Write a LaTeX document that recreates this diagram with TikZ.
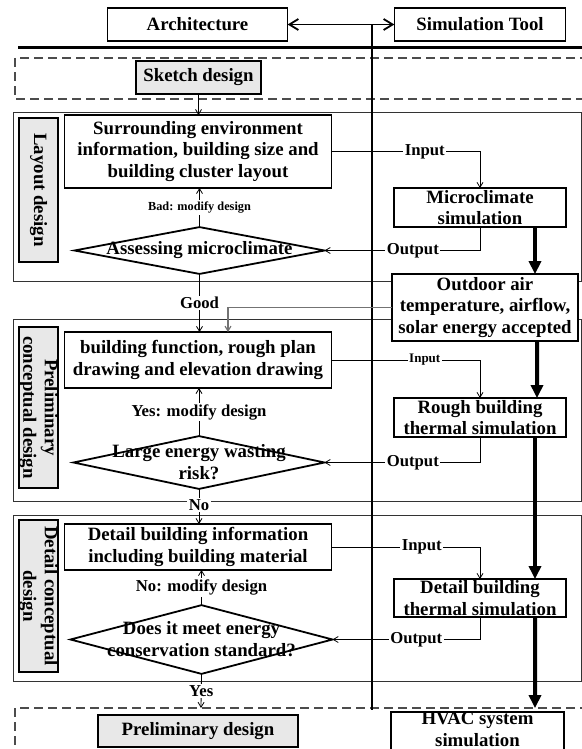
\documentclass[tikz,border=0pt]{standalone}
\usepackage{fontspec}
\setmainfont{Liberation Serif}
\usetikzlibrary{arrows.meta,shapes.geometric}
\newcommand\dgmfont{\bfseries\fontsize{18.8bp}{21.5bp}\selectfont}
\newcommand\lblfont{\bfseries\fontsize{16.7bp}{19bp}\selectfont}
\newcommand\smallfont[1]{\bfseries\fontsize{#1}{#1}\selectfont}
\begin{document}
\begin{tikzpicture}[x=1bp,y=-1bp,
  every node/.style={inner sep=0pt, outer sep=0pt, align=center, font=\dgmfont},
  bx/.style 2 args={draw, line width=1.8bp, fill=white, minimum width=#1, minimum height=#2},
  gbx/.style 2 args={bx={#1}{#2}, fill=black!9},
  tight/.style={inner ysep=-2.5bp},
  dia/.style 2 args={diamond, draw, line width=1.8bp, minimum width=#1, minimum height=#2},
  lbl/.style={fill=white, inner xsep=1.5bp, inner ysep=1.5bp, font=\lblfont},
  thinarrow/.style={line width=0.8bp, -{Straight Barb[length=5bp,width=6bp]}},
  thickarrow/.style={line width=4bp, -{Triangle[length=13bp,width=12bp]}},
  frame/.style={draw=black!80, line width=0.9bp},
  dsh/.style={draw=black!70, line width=1.3bp, dash pattern=on 9bp off 5bp},
  ]
\useasboundingbox (0,0) rectangle (582,749);

% dashed bands and frames
\draw[dsh] (15,58) rectangle (590,99);
\draw[dsh] (15,708) rectangle (590,770);
\draw[frame] (13,112) rectangle (581.5,281);
\draw[frame] (13,319) rectangle (581.5,501);
\draw[frame] (13,515) rectangle (581.5,681);

% header
\node[bx={181}{33}, line width=1.2bp] (arch) at (197.5,24.5) {Architecture};
\node[bx={172}{33}, line width=1.2bp] (simt) at (480,24.5) {Simulation Tool};
\draw[line width=1.8bp, {Straight Barb[length=9bp,width=11bp]}-{Straight Barb[length=9bp,width=11bp]}] (arch.east) -- (simt.west);
\coordinate (vtop) at (372,24.5);
\coordinate (vbot) at (372,710);
\draw[line width=1.8bp] (vtop) -- (vbot);
\coordinate (hl) at (18,48);
\coordinate (hr) at (585,48);
\draw[line width=3bp] (hl) -- (hr);

% side labels
\node[gbx={144}{39}, rotate=-90] (sl1) at (38.5,190) {Layout design};
\node[gbx={161}{39}, rotate=-90, tight] (sl2) at (38.5,407.5) {Preliminary\\conceptual design};
\node[gbx={152}{39}, rotate=-90, tight] (sl3) at (38.5,596) {Detail conceptual\\design};

% architecture column
\node[gbx={125}{33}] (sketch) at (198.5,77.5) {Sketch design};
\node[bx={268}{73}] (b1) at (198,151.5) {Surrounding environment\\information, building size and\\building cluster layout};
\node[dia={251}{47}] (d1) at (199.5,250.5) {};
\node (d1t) at (199.5,250) {Assessing microclimate};
\node[bx={268}{56}] (b2) at (198,360) {building function, rough plan\\drawing and elevation drawing};
\node[dia={252}{53}] (d2) at (199,462.5) {};
\node (d2t) at (199,462) {Large energy wasting\\risk?};
\node[bx={268}{46}] (b3) at (198,547) {Detail building information\\including building material};
\node[dia={263}{69}] (d3) at (201.5,639.5) {};
\node (d3t) at (201.5,639) {Does it meet energy\\conservation standard?};
\node[gbx={200}{32}] (prel) at (198,731) {Preliminary design};
\coordinate (ytip) at (201,708);

% simulation column
\node[bx={172}{39}, tight] (micro) at (480,207.5) {Microclimate\\simulation};
\node[bx={186}{67}] (outd) at (485,307.5) {Outdoor air\\temperature, airflow,\\solar energy accepted};
\node[bx={172}{39}, tight] (rough) at (480,417.5) {Rough building\\thermal simulation};
\node[bx={173}{38}, tight] (dsim) at (480,598) {Detail building\\thermal simulation};
\node[bx={173}{46}] (hvac) at (477.5,735) {};
\node (hvact) at (477.5,729.5) {HVAC system\\simulation};

% vertical flow
\draw[thinarrow] (sketch.south) -- (sketch.south |- b1.north);
\draw[thinarrow] (d1.north) -- (d1.north |- b1.south) node[midway, lbl, font=\smallfont{12.3bp}] {Bad: modify design};
\draw[thinarrow] (d1.south) -- (d1.south |- b2.north) node[midway, lbl] {Good};
\draw[thinarrow] (d2.north) -- (d2.north |- b2.south) node[midway, lbl] {Yes: modify design};
\draw[thinarrow] (d2.south) -- (d2.south |- b3.north) node[pos=0.45, lbl] {No};
\draw[thinarrow] (d3.north) -- (d3.north |- b3.south) node[midway, lbl] {No: modify design};
\draw[thinarrow] (d3.south) -- (ytip) node[midway, lbl] {Yes};

% input / output
\draw[thinarrow] (b1.east) -| (micro.north) node[pos=0.314, lbl] {Input};
\draw[thinarrow] (micro.south) |- (d1.east) node[pos=0.716, lbl] {Output};
\draw[thinarrow] (b2.east) -| (rough.north) node[pos=0.314, lbl, font=\smallfont{13bp}] {Input};
\draw[thinarrow] (rough.south) |- (d2.east) node[pos=0.716, lbl] {Output};
\draw[thinarrow] (b3.east) -| (dsim.north) node[pos=0.304, lbl] {Input};
\draw[thinarrow] (dsim.south) |- (d3.east) node[pos=0.716, lbl] {Output};
\draw[thinarrow, draw=black!55, line width=1.1bp] (outd.west) -| ([xshift=30bp]b2.north);

% thick simulation flow
\draw[thickarrow] ([xshift=55bp]micro.south) -- ([xshift=55bp]micro.south |- outd.north);
\draw[thickarrow] ([xshift=52bp]outd.south) -- ([xshift=57bp]rough.north);
\draw[thickarrow] ([xshift=55bp]rough.south) -- ([xshift=55bp]dsim.north);
\draw[thickarrow] ([xshift=55bp]dsim.south) -- ([xshift=57.5bp,yshift=4bp]hvac.north);
\end{tikzpicture}
\end{document}
